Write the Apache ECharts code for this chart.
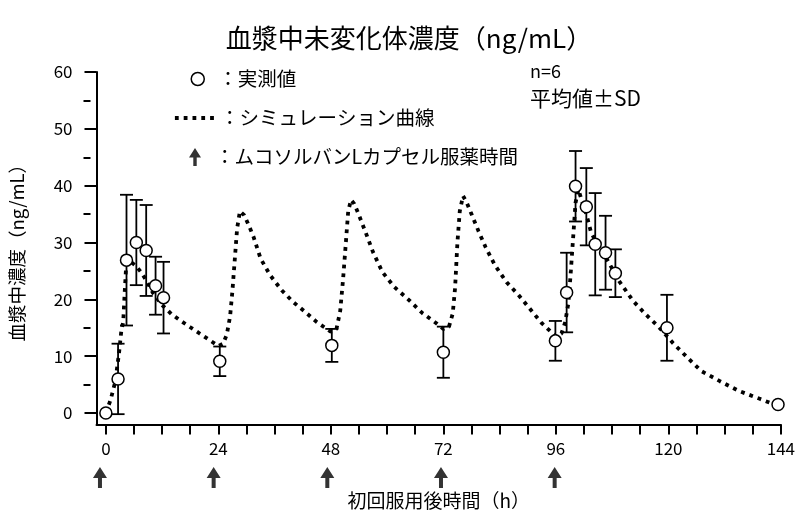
<!DOCTYPE html>
<html>
<head>
<meta charset="utf-8">
<script src="https://cdn.jsdelivr.net/npm/echarts@6/dist/echarts.min.js"></script>
<style>
html,body{margin:0;padding:0;background:#fff;}
#chart{width:798px;height:516px;}
</style>
</head>
<body>
<div id="chart"></div>
<script>
// Observed (mean ± SD)
const obsTime = [0, 2.6, 4.4, 6.5, 8.6, 10.6, 12.3, 24.3, 48.2, 72.0, 95.9, 98.3, 100.2, 102.5, 104.4, 106.6, 108.7, 119.7, 143.4];
const obsMean = [0, 6.0, 26.9, 30.0, 28.6, 22.4, 20.3, 9.1, 11.9, 10.7, 12.7, 21.2, 39.9, 36.3, 29.7, 28.2, 24.6, 15.0, 1.5];
const obsSD   = [0, 6.2, 11.5, 7.5, 8.0, 5.1, 6.3, 2.6, 2.9, 4.5, 3.5, 7.0, 6.2, 6.8, 9.0, 6.5, 4.2, 5.8, 0];

// Simulation curve
const simTime = [0, 1, 2, 2.8, 3.3, 3.7, 4.0, 4.3, 4.8, 5.5, 6.5, 7.5, 8.5, 10, 12, 14, 16, 18, 20, 22, 24,
  25, 25.8, 26.5, 27, 27.5, 28, 28.6, 29.5, 30.5, 31.5, 33, 35, 37.5, 40, 42.5, 45, 48,
  49.2, 50, 50.6, 51.2, 51.7, 52.3, 53, 54, 55.5, 57, 59, 61.5, 64.5, 67.5, 70.5, 72,
  73.2, 74, 74.5, 75, 75.5, 76.2, 77, 78, 79.5, 81, 83, 85.5, 88, 90.5, 93, 96,
  97.2, 98, 98.7, 99.2, 99.7, 100.2, 100.8, 101.5, 102.5, 103.5, 105, 107, 109.5, 112.5, 115, 118, 121, 124, 127, 131, 135, 139.5, 142, 143.4];
const simConc = [0, 2.3, 5.5, 10.5, 14.5, 16, 21, 25.5, 26.8, 26.5, 25.8, 24.8, 23.5, 21.2, 19, 17.4, 16.2, 15.1, 14, 12.9, 11.8,
  12.2, 13.8, 17, 21.5, 27, 32.5, 35.5, 34.8, 33, 31, 27.2, 24.3, 21.6, 19.5, 17.8, 16, 14.3,
  14.8, 18, 23.5, 30, 35.5, 37.5, 36.8, 34.8, 31.6, 28.3, 24.8, 22.2, 20, 17.6, 15.8, 14.8,
  15.2, 17.5, 22, 30, 35.5, 38.2, 37, 35, 32, 29.2, 26, 23, 20.8, 18.3, 15.8, 13.5,
  14, 16, 19.5, 25, 31, 37, 39.3, 37.5, 35, 31.8, 29.5, 26.9, 23.2, 19.7, 17.5, 15.1, 12.3, 9.8, 7.4, 5.6, 3.9, 2.5, 1.7, 1.5];

// Dosing times
const doseTimes = [0, 24, 48, 72, 96];

// Axis ticks / labels
const xLabelVals = [0, 24, 48, 72, 96, 120, 144];
const xTickVals = [0, 6, 12, 18, 24, 30, 36, 42, 48, 54, 60, 66, 72, 78, 84, 90, 96, 102, 108, 114, 120, 126, 132, 138, 144];
const yLabelVals = [0, 10, 20, 30, 40, 50, 60];
const yMinorVals = [5, 15, 25, 35, 45, 55];

const FONT = '"Noto Sans CJK JP", "Noto Sans", sans-serif';
const NUMFONT = '"Liberation Sans Narrow", "Noto Sans CJK JP", sans-serif';
const arrowPath = 'path://M7,0 L14,11 L9,11 L9,21 L5,21 L5,11 L0,11 Z';

const chart = echarts.init(document.getElementById('chart'), null, {renderer: 'canvas'});

const obsPts = obsTime.map((t, i) => [t, obsMean[i]]);
const errPts = obsTime.map((t, i) => [t, obsMean[i] - obsSD[i], obsMean[i] + obsSD[i]]).filter((d, i) => obsSD[i] > 0);
const simPts = simTime.map((t, i) => [t, simConc[i]]);
const dosePts = doseTimes.map(t => [t, 0.5]);

const legendText = {fontFamily: FONT, fontSize: 19.5, color: '#000', lineHeight: 22};
const legendBase = {orient: 'vertical', padding: 0, selectedMode: false, formatter: '：{name}', textStyle: legendText};

const gridMain = {left: 90.5, right: 16, top: 72, bottom: 91.6, containLabel: false};

const option = {
  animation: false,
  backgroundColor: '#fff',
  title: {
    text: '血漿中未変化体濃度（ng/mL）',
    left: 404, top: 20, textAlign: 'center',
    textStyle: {fontFamily: FONT, fontSize: 26, fontWeight: 'normal', color: '#000'}
  },
  legend: [
    Object.assign({}, legendBase, {
      left: 190.5, top: 68, itemWidth: 31, itemHeight: 13,
      data: [{name: '実測値', icon: 'circle', itemStyle: {color: '#fff', borderColor: '#000', borderWidth: 1.5}}]
    }),
    Object.assign({}, legendBase, {
      left: 173, top: 107, itemWidth: 40, itemHeight: 14,
      data: [{name: 'シミュレーション曲線', itemStyle: {opacity: 0}, lineStyle: {color: '#000', width: 3.8, type: [3.8, 5]}}]
    }),
    Object.assign({}, legendBase, {
      left: 189, top: 146, itemWidth: 30, itemHeight: 18,
      data: [{name: 'ムコソルバンLカプセル服薬時間', icon: arrowPath, itemStyle: {color: '#000'}}]
    })
  ],
  graphic: [
    {type: 'text', left: 530, top: 62, style: {text: 'n=6', fontFamily: FONT, fontSize: 18, fill: '#000'}},
    {type: 'text', left: 530, top: 88, style: {text: '平均値±SD', fontFamily: FONT, fontSize: 21, fill: '#000'}}
  ],
  grid: [
    gridMain,
    {left: 90.5, right: 16, top: 464, height: 27, containLabel: false},
    Object.assign({}, gridMain)
  ],
  xAxis: [
    {
      type: 'value', gridIndex: 0, min: -2, max: 144,
      name: '初回服用後時間（h）', nameLocation: 'middle', nameGap: 67,
      nameTextStyle: {fontFamily: FONT, fontSize: 19, color: '#000'},
      axisLine: {show: true, onZero: false, lineStyle: {color: '#000', width: 2}},
      axisTick: {show: true, customValues: xTickVals, length: 10, lineStyle: {color: '#000', width: 2}},
      axisLabel: {customValues: xLabelVals, margin: 16, fontFamily: NUMFONT, fontSize: 17, color: '#000'},
      splitLine: {show: false}
    },
    {type: 'value', gridIndex: 1, min: -2, max: 144, show: false},
    {type: 'value', gridIndex: 2, min: -2, max: 144, show: false}
  ],
  yAxis: [
    {
      type: 'value', gridIndex: 0, min: -2, max: 60,
      name: '血漿中濃度（ng/mL）', nameLocation: 'middle', nameGap: 70, nameRotate: 90,
      nameTextStyle: {fontFamily: FONT, fontSize: 18.5, color: '#000'},
      axisLine: {show: true, onZero: false, lineStyle: {color: '#000', width: 2}},
      axisTick: {show: true, customValues: yLabelVals, length: 12, lineStyle: {color: '#000', width: 2}},
      axisLabel: {customValues: yLabelVals, margin: 24, fontFamily: NUMFONT, fontSize: 17, color: '#000'},
      splitLine: {show: false}
    },
    {type: 'value', gridIndex: 1, min: 0, max: 1, show: false},
    {
      type: 'value', gridIndex: 2, min: -2, max: 60, position: 'left',
      axisLine: {show: false, onZero: false},
      axisTick: {show: true, customValues: yMinorVals, length: 7, lineStyle: {color: '#000', width: 2}},
      axisLabel: {show: false},
      splitLine: {show: false}
    }
  ],
  series: [
    {
      name: 'シミュレーション曲線',
      type: 'line', xAxisIndex: 0, yAxisIndex: 0,
      data: simPts, showSymbol: false, symbol: 'none', smooth: false,
      color: '#000',
      lineStyle: {color: '#000', width: 3.8, type: [3.8, 5]},
      z: 2
    },
    {
      name: 'errbar',
      type: 'custom', xAxisIndex: 0, yAxisIndex: 0,
      data: errPts,
      renderItem: function (params, api) {
        const x = api.value(0);
        const lo = api.coord([x, api.value(1)]);
        const hi = api.coord([x, api.value(2)]);
        const hw = 6.5;
        const st = {stroke: '#000', lineWidth: 1.8};
        return {
          type: 'group',
          children: [
            {type: 'line', shape: {x1: lo[0], y1: lo[1], x2: hi[0], y2: hi[1]}, style: st},
            {type: 'line', shape: {x1: hi[0] - hw, y1: hi[1], x2: hi[0] + hw, y2: hi[1]}, style: st},
            {type: 'line', shape: {x1: lo[0] - hw, y1: lo[1], x2: lo[0] + hw, y2: lo[1]}, style: st}
          ]
        };
      },
      z: 3
    },
    {
      name: '実測値',
      type: 'scatter', xAxisIndex: 0, yAxisIndex: 0,
      data: obsPts, symbol: 'circle', symbolSize: 12,
      itemStyle: {color: '#fff', borderColor: '#000', borderWidth: 1.5, opacity: 1},
      z: 4
    },
    {
      name: 'ムコソルバンLカプセル服薬時間',
      type: 'scatter', xAxisIndex: 1, yAxisIndex: 1,
      data: dosePts, symbol: arrowPath, symbolSize: [14, 21],
      itemStyle: {color: '#000'},
      z: 4
    }
  ]
};
chart.setOption(option);
</script>
</body>
</html>
